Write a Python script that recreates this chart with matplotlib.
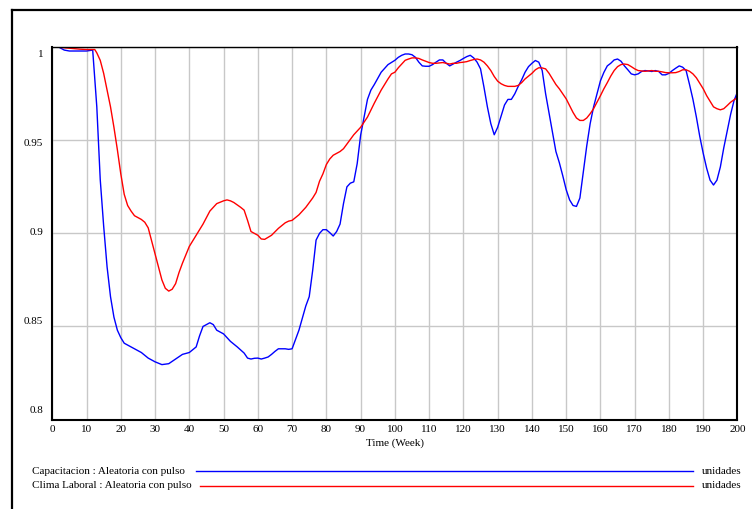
import numpy as np
import matplotlib.pyplot as plt
from matplotlib.lines import Line2D

plt.rcParams['font.family'] = ['Liberation Serif', 'DejaVu Serif']

# Capacitacion : Aleatoria con pulso (blue)
cap_t = [0, 2, 3.5, 5, 10, 11.8, 13, 14, 15, 16, 17, 18, 19, 20, 21, 22, 24, 26, 28, 30,
         32, 34, 36, 38, 40, 42, 43, 44, 46, 47, 48, 50, 51, 52, 54, 56, 57, 58, 59, 60,
         61, 62, 63, 64, 65, 66, 67, 68, 69, 70, 71, 72, 73, 74, 75, 76, 77, 78, 79, 80,
         81, 82, 83, 84, 85, 86, 87, 88, 89, 90, 91, 92, 93, 94, 96, 98, 100, 101, 102, 103,
         104, 105, 106, 107, 108, 109, 110, 111, 112, 113, 114, 115, 116, 117, 118, 119, 120, 121, 122, 123,
         124, 125, 126, 127, 128, 129, 130, 131, 132, 133, 134, 135, 136, 137, 138, 139, 140, 141, 142, 143,
         144, 145, 146, 147, 148, 149, 150, 151, 152, 153, 154, 155, 156, 157, 158, 159, 160, 161, 162, 163,
         164, 165, 166, 167, 168, 169, 170, 171, 172, 173, 174, 175, 176, 177, 178, 179, 180, 181, 182, 183,
         184, 185, 186, 187, 188, 189, 190, 191, 192, 193, 194, 195, 196, 197, 198, 199, 200]
cap_v = [1.0, 1.0, 0.9985, 0.998, 0.998, 0.9985, 0.968, 0.929, 0.904, 0.882, 0.866, 0.855, 0.848, 0.844, 0.841, 0.840, 0.838, 0.836, 0.833, 0.831,
         0.8295, 0.830, 0.8325, 0.835, 0.836, 0.839, 0.845, 0.850, 0.852, 0.851, 0.848, 0.846, 0.844, 0.842, 0.839, 0.8357, 0.833, 0.8325, 0.8329, 0.833,
         0.8325, 0.833, 0.8336, 0.835, 0.8366, 0.838, 0.838, 0.838, 0.8377, 0.838, 0.843, 0.848, 0.8545, 0.861, 0.866, 0.880, 0.8964, 0.900, 0.902, 0.902,
         0.9004, 0.8986, 0.901, 0.905, 0.916, 0.925, 0.927, 0.9277, 0.9375, 0.9527, 0.9625, 0.972, 0.977, 0.980, 0.9866, 0.9907, 0.993, 0.9946, 0.9957, 0.9964,
         0.9964, 0.996, 0.9946, 0.992, 0.990, 0.9898, 0.9898, 0.9907, 0.992, 0.9932, 0.9932, 0.9914, 0.990, 0.991, 0.992, 0.9929, 0.994, 0.995, 0.9957, 0.9943,
         0.992, 0.9884, 0.9786, 0.968, 0.959, 0.953, 0.957, 0.963, 0.969, 0.972, 0.972, 0.975, 0.979, 0.9825, 0.9866, 0.9896, 0.9914, 0.9929, 0.992, 0.9875,
         0.975, 0.9646, 0.954, 0.944, 0.938, 0.931, 0.9235, 0.918, 0.915, 0.9145, 0.919, 0.933, 0.947, 0.959, 0.968, 0.975, 0.982, 0.9865, 0.990, 0.9914,
         0.9932, 0.9937, 0.9925, 0.990, 0.9879, 0.9857, 0.9852, 0.9857, 0.987, 0.9875, 0.9873, 0.987, 0.9875, 0.987, 0.9852, 0.9852, 0.986, 0.9875, 0.9888, 0.990,
         0.9893, 0.9875, 0.980, 0.972, 0.9625, 0.952, 0.943, 0.935, 0.9286, 0.926, 0.9286, 0.9357, 0.946, 0.955, 0.964, 0.9714, 0.976]

# Clima Laboral : Aleatoria con pulso (red)
clima_t = [0, 2, 5, 8, 10, 12.4, 13, 14, 15, 16, 17, 18, 19, 20, 21, 22, 23, 24, 26, 27,
           28, 29, 30, 31, 32, 33, 34, 35, 36, 37, 38, 40, 42, 44, 46, 48, 50, 51, 52, 53,
           55, 56, 57, 58, 59, 60, 61, 62, 64, 66, 68, 69, 70, 72, 74, 76, 77, 78, 79, 80,
           81, 82, 84, 85, 86, 88, 90, 92, 94, 96, 98, 99, 100, 101, 102, 103, 104, 105, 106, 107,
           108, 109, 110, 111, 112, 113, 114, 115, 116, 117, 118, 119, 120, 121, 122, 123, 124, 125, 126, 127,
           128, 129, 130, 131, 132, 133, 134, 135, 136, 137, 138, 139, 140, 141, 142, 143, 144, 145, 146, 147,
           148, 149, 150, 151, 152, 153, 154, 155, 156, 157, 158, 159, 160, 161, 162, 163, 164, 165, 166, 167,
           168, 169, 170, 171, 172, 173, 174, 175, 176, 177, 178, 179, 180, 181, 182, 183, 184, 185, 186, 187,
           188, 189, 190, 191, 192, 193, 194, 195, 196, 197, 198, 199, 200]
clima_v = [1.0, 1.0, 0.9995, 0.999, 0.9988, 0.9988, 0.997, 0.993, 0.986, 0.977, 0.968, 0.957, 0.945, 0.932, 0.921, 0.915, 0.912, 0.9095, 0.9075, 0.906,
           0.903, 0.896, 0.889, 0.882, 0.875, 0.8705, 0.869, 0.870, 0.873, 0.879, 0.884, 0.893, 0.899, 0.905, 0.912, 0.916, 0.9175, 0.918, 0.9175, 0.9166,
           0.914, 0.9125, 0.907, 0.901, 0.900, 0.899, 0.897, 0.8968, 0.899, 0.9027, 0.9057, 0.9066, 0.907, 0.910, 0.914, 0.919, 0.922, 0.928, 0.932, 0.937,
           0.940, 0.942, 0.944, 0.9455, 0.948, 0.953, 0.957, 0.9625, 0.970, 0.977, 0.983, 0.9857, 0.9866, 0.989, 0.991, 0.993, 0.9937, 0.9943, 0.9943, 0.994,
           0.9932, 0.9925, 0.9918, 0.9914, 0.9914, 0.9916, 0.9918, 0.9914, 0.991, 0.9914, 0.9914, 0.9918, 0.992, 0.9923, 0.9929, 0.9934, 0.9937, 0.9932, 0.992, 0.990,
           0.9875, 0.9843, 0.9818, 0.9804, 0.9795, 0.979, 0.979, 0.979, 0.9795, 0.981, 0.983, 0.9845, 0.986, 0.9879, 0.989, 0.9889, 0.9884, 0.986, 0.983, 0.980,
           0.9777, 0.975, 0.9723, 0.9687, 0.965, 0.962, 0.9607, 0.9607, 0.962, 0.9643, 0.967, 0.9705, 0.974, 0.9777, 0.981, 0.9845, 0.9875, 0.9896, 0.9907, 0.991,
           0.9907, 0.9896, 0.9884, 0.9875, 0.9873, 0.9871, 0.9873, 0.9875, 0.9871, 0.9871, 0.9868, 0.9864, 0.9863, 0.9863, 0.9864, 0.987, 0.9879, 0.9879, 0.9871, 0.9857,
           0.9836, 0.9807, 0.9777, 0.974, 0.971, 0.968, 0.967, 0.9664, 0.967, 0.9687, 0.9705, 0.9718, 0.973]

x_ticks = list(range(0, 201, 10))
y_ticks = [0.8, 0.85, 0.9, 0.95, 1.0]
y_labels = ['0.8', '0.85', '0.9', '0.95', '1']

fig = plt.figure(figsize=(7.52, 5.09), dpi=100)
ax = fig.add_axes([0.0695, 0.1758, 0.9112, 0.7313])

ax.plot(cap_t, cap_v, color='#0000ff', lw=1.0)
ax.plot(clima_t, clima_v, color='#ff0000', lw=1.0)

ax.set_xlim(0, 200)
ax.set_ylim(0.8, 1.0)
ax.set_xticks(x_ticks)
ax.set_yticks(y_ticks)
ax.set_yticklabels([])
ax.tick_params(axis='both', length=0, labelsize=8)
ax.tick_params(axis='x', pad=4)
ax.grid(True, color='#c8c8c8', lw=1.0)
ax.set_axisbelow(True)
for side in ['left', 'bottom', 'right']:
    ax.spines[side].set_linewidth(1.5)
ax.spines['top'].set_linewidth(1.0)

# vensim spreads the y labels evenly inside the axis
fr = np.linspace(0.023, 0.981, len(y_ticks))
for f, lab in zip(fr, y_labels):
    ax.text(-0.013, f, lab, transform=ax.transAxes, ha='right', va='center', fontsize=8)

ax.set_xlabel('Time (Week)', fontsize=8, labelpad=3)

# outer frame
fig.add_artist(Line2D([12 / 752, 1], [1 - 10 / 509] * 2, color='black', lw=1.6))
fig.add_artist(Line2D([12 / 752] * 2, [0, 1 - 10 / 509], color='black', lw=1.6))

# legend rows
rows = [('Capacitacion : Aleatoria con pulso', '#0000ff', 196, 471),
        ('Clima Laboral : Aleatoria con pulso', '#ff0000', 200, 486)]
for name, col, x0, y in rows:
    yf = 1 - y / 509
    fig.text(31.5 / 752, yf, name, ha='left', va='center', fontsize=8)
    fig.add_artist(Line2D([x0 / 752, 693 / 752], [yf, yf], color=col, lw=1.0))
    fig.text(702 / 752, yf, 'unidades', ha='left', va='center', fontsize=8)

fig.savefig('out.png', dpi=100)
